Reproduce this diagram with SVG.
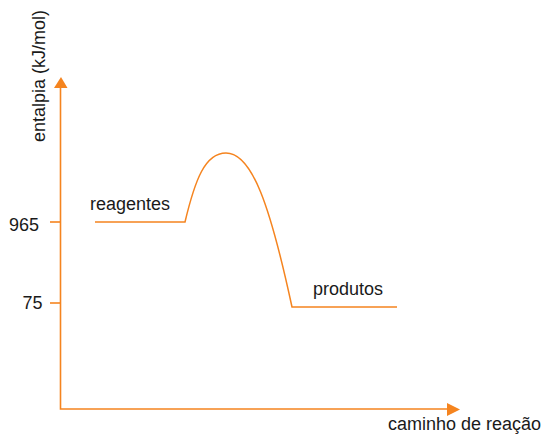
<svg xmlns="http://www.w3.org/2000/svg" width="546" height="441" viewBox="0 0 546 441">
<style>
.ax{stroke:#F5841F;stroke-width:1.6;fill:none}
.ln{stroke:#F5841F;stroke-width:1.5;fill:none}
.t{font-family:"Liberation Sans",Arial,sans-serif;font-size:18px;fill:#1a1a1a}
.ah{fill:#F5841F}
</style>
<rect width="546" height="441" fill="#ffffff"/>
<g id="axes">
<path class="ax" d="M60.5,86 V409 H450"/>
<polygon class="ah" points="54,88 67.5,88 61,77"/>
<polygon class="ah" points="447,403 447,416 460,409.5"/>
<line class="ax" x1="50" y1="222" x2="60" y2="222"/>
<line class="ax" x1="50" y1="303" x2="60" y2="303"/>
</g>
<g id="labels">
<text class="t" transform="translate(45,142) rotate(-90)">entalpia (kJ/mol)</text>
<text class="t" x="39" y="231" text-anchor="end">965</text>
<text class="t" x="42.5" y="309" text-anchor="end">75</text>
<text class="t" x="388" y="430">caminho de reação</text>
</g>
<g id="connectors">
<path class="ln" d="M95,222 H185 C195,180 205,153 226,153 C252,153 270,205 292,307 H397"/>
</g>
<g id="reagentes">
<text class="t" x="90" y="210">reagentes</text>
</g>
<g id="produtos">
<text class="t" x="313" y="295">produtos</text>
</g>
</svg>
